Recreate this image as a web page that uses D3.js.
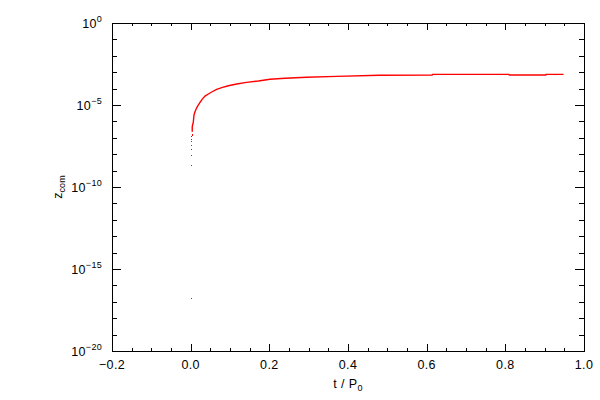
<!DOCTYPE html>
<html>
<head>
<meta charset="utf-8">
<script src="https://cdn.jsdelivr.net/npm/d3@7"></script>
<style>
  html, body { margin: 0; padding: 0; background: #fff; }
  svg { display: block; }
  text { font-family: "Liberation Sans", Arial, sans-serif; fill: #000; }
</style>
</head>
<body>
<svg id="chart" width="600" height="400"></svg>
<script>
// ---- data ----
const xTickValues = [-0.2, 0.0, 0.2, 0.4, 0.6, 0.8, 1.0];
const yTickExponents = [-20, -15, -10, -5, 0];

// isolated early points near t = 0
const dotsT = [0.0016, 0.0016, 0.0016, 0.0016, 0.0016, 0.0016, 0.0018, 0.0020, 0.0025, 0.0030];
const dotsZ = [1.7e-17, 2.1e-9, 8.5e-9, 2.0e-8, 3.5e-8, 6.0e-8, 7.9e-8, 1.26e-7, 1.5e-7, 1.8e-7];

// continuous curve
const curveT = [0.004, 0.004, 0.0067, 0.0085, 0.011, 0.0136, 0.017, 0.021, 0.0255, 0.0296,
                0.0364, 0.045, 0.0534, 0.066, 0.079, 0.0957, 0.117, 0.142, 0.172, 0.2017,
                0.240, 0.295, 0.371, 0.479, 0.614, 0.615, 0.809, 0.810, 0.903, 0.904, 0.948];
const curveZ = [2.3e-7, 4.9e-7, 9.1e-7, 2.5e-6, 3.9e-6, 5.5e-6, 7.9e-6, 1.15e-5, 1.66e-5, 2.3e-5,
                3.5e-5, 4.7e-5, 6.2e-5, 9.1e-5, 1.15e-4, 1.5e-4, 1.9e-4, 2.4e-4, 2.9e-4, 3.7e-4,
                4.3e-4, 4.9e-4, 5.6e-4, 6.5e-4, 6.8e-4, 7.4e-4, 7.4e-4, 6.8e-4, 6.8e-4, 7.4e-4, 7.4e-4];

(function () {
// ---- layout ----
const pL = 112, pR = 584, pT = 23, pB = 351;
const svg = d3.select("#chart");

const x = d3.scaleLinear().domain([-0.2, 1.0]).range([pL, pR]);
const y = d3.scaleLog().domain([1e-20, 1e0]).range([pB, pT]);

const xMinor = d3.range(-0.2, 1.0001, 0.05).map(v => +v.toFixed(2));
const yMajor = yTickExponents.map(e => Math.pow(10, e));
const yMinor = d3.range(-20, 1).map(e => Math.pow(10, e));

const majX = 0.02 * (pB - pT);   // IDL style tick lengths
const majY = 0.02 * (pR - pL);

function styleAxis(g) {
  g.select(".domain").remove();
  g.selectAll("line").attr("stroke", "#000").attr("shape-rendering", "crispEdges");
  g.selectAll("text").remove();
}

svg.append("g").attr("transform", `translate(0,${pB})`)
  .call(d3.axisBottom(x).tickValues(xMinor).tickSize(-majX / 2)).call(styleAxis);
svg.append("g").attr("transform", `translate(0,${pB})`)
  .call(d3.axisBottom(x).tickValues(xTickValues).tickSize(-majX)).call(styleAxis);
svg.append("g").attr("transform", `translate(0,${pT})`)
  .call(d3.axisTop(x).tickValues(xMinor).tickSize(-majX / 2)).call(styleAxis);
svg.append("g").attr("transform", `translate(0,${pT})`)
  .call(d3.axisTop(x).tickValues(xTickValues).tickSize(-majX)).call(styleAxis);
svg.append("g").attr("transform", `translate(${pL},0)`)
  .call(d3.axisLeft(y).tickValues(yMinor).tickSize(-majY / 2)).call(styleAxis);
svg.append("g").attr("transform", `translate(${pL},0)`)
  .call(d3.axisLeft(y).tickValues(yMajor).tickSize(-majY)).call(styleAxis);
svg.append("g").attr("transform", `translate(${pR},0)`)
  .call(d3.axisRight(y).tickValues(yMinor).tickSize(-majY / 2)).call(styleAxis);
svg.append("g").attr("transform", `translate(${pR},0)`)
  .call(d3.axisRight(y).tickValues(yMajor).tickSize(-majY)).call(styleAxis);

svg.append("rect")
  .attr("x", pL).attr("y", pT)
  .attr("width", pR - pL).attr("height", pB - pT)
  .attr("fill", "none").attr("stroke", "#000").attr("stroke-width", 1)
  .attr("shape-rendering", "crispEdges");

const fmt = d3.format(".1f");
svg.append("g").selectAll("text").data(xTickValues).join("text")
  .attr("x", d => x(d)).attr("y", pB + 18)
  .attr("text-anchor", "middle").attr("font-size", 12.5)
  .attr("letter-spacing", 0.4)
  .text(d => fmt(d));

const yl = svg.append("g").selectAll("text").data(yTickExponents).join("text")
  .attr("x", pL - 10).attr("y", d => y(Math.pow(10, d)) + 5)
  .attr("text-anchor", "end").attr("font-size", 12.5)
  .attr("letter-spacing", 0.3);
yl.append("tspan").text("10");
yl.append("tspan").attr("dy", -6).attr("font-size", 9)
  .text(d => d === 0 ? "0" : "\u2212" + Math.abs(d));

const xt = svg.append("text")
  .attr("x", (pL + pR) / 2).attr("y", pB + 37)
  .attr("text-anchor", "middle").attr("font-size", 12.5).attr("letter-spacing", 0.4);
xt.append("tspan").text("t / P");
xt.append("tspan").attr("dy", 3).attr("font-size", 9).text("0");

const yt = svg.append("text")
  .attr("transform", `translate(62,${(pT + pB) / 2}) rotate(-90)`)
  .attr("text-anchor", "middle").attr("font-size", 12.5);
yt.append("tspan").text("z");
yt.append("tspan").attr("dy", 3).attr("font-size", 9).text("com");

const red = "#ff0000";
svg.append("g").selectAll("rect").data(dotsT.map((t, i) => [t, dotsZ[i]])).join("rect")
  .attr("x", d => Math.round(x(d[0]))).attr("y", d => Math.round(y(d[1])))
  .attr("width", 1).attr("height", 1).attr("fill", red);

const line = d3.line().x(d => x(d[0])).y(d => y(d[1]));
svg.append("path")
  .datum(curveT.map((t, i) => [t, curveZ[i]]))
  .attr("d", line)
  .attr("fill", "none").attr("stroke", red).attr("stroke-width", 1.4);
})();
</script>
</body>
</html>
